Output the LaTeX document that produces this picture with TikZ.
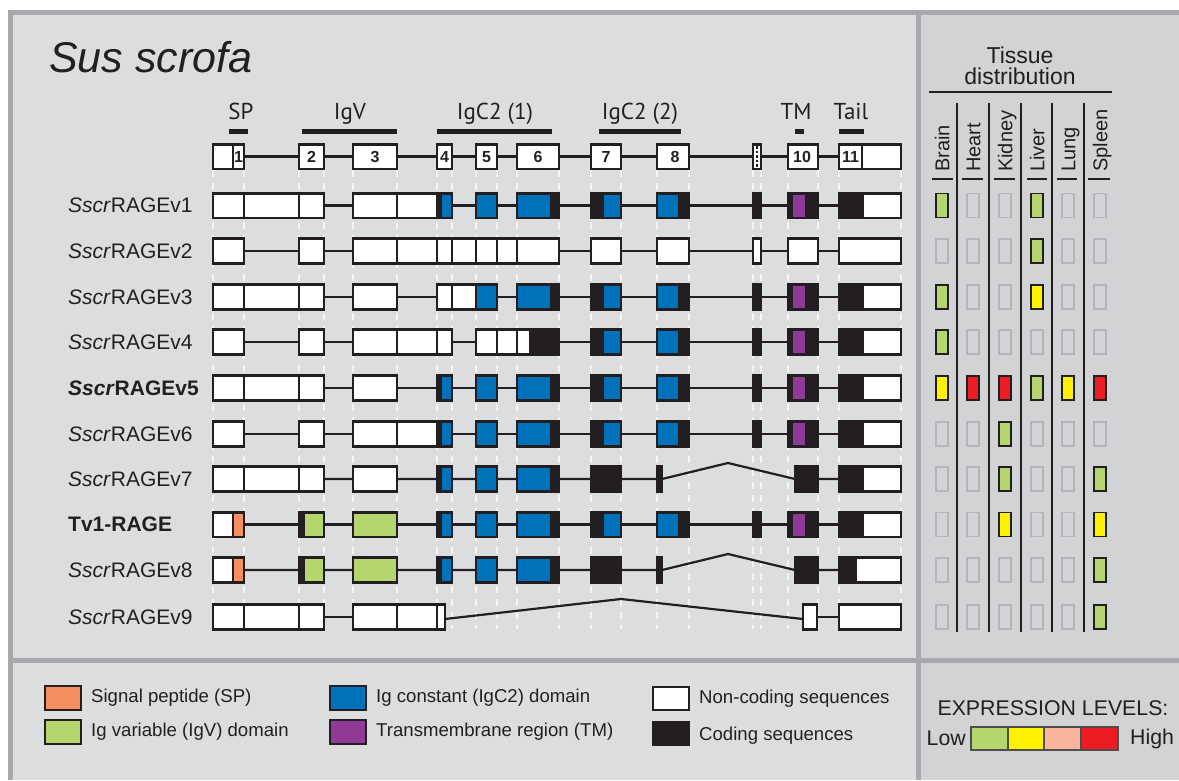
\documentclass[tikz,border=0pt]{standalone}
\usepackage{fontspec}
\setmainfont{Liberation Sans}
\newfontfamily\hdrfont{PT Sans}
\definecolor{mainbg}{HTML}{DCDDDF}
\definecolor{sidebg}{HTML}{D1D3D4}
\definecolor{framec}{HTML}{A7A9AC}
\definecolor{ink}{HTML}{231F20}
\definecolor{cblue}{HTML}{0072BC}
\definecolor{cpurp}{HTML}{8E3A96}
\definecolor{cgreen}{HTML}{B5D56F}
\definecolor{corange}{HTML}{F68E5F}
\definecolor{cyellow}{HTML}{FFF200}
\definecolor{cred}{HTML}{ED1C24}
\definecolor{cpink}{HTML}{F9B49B}
\definecolor{emptyb}{HTML}{B3B5B8}
\definecolor{guide}{HTML}{F4F4F5}
\newcommand\generow[2]{\foreach \a/\b/\c in {#2}{\path[exon,fill=\c] (\a,#1-12.3) rectangle (\b,#1+12.3);}}
\begin{document}
\begin{tikzpicture}[x=1pt,y=-1pt,
  exon/.style={draw=ink,line width=2.6pt},
  intron/.style={draw=ink,line width=2.2pt},
  guideline/.style={draw=guide,line width=1.6pt,dash pattern=on 7pt off 6pt},
  rowlab/.style={anchor=west,inner sep=0pt,text=ink,font=\fontsize{21}{24}\selectfont},
  hdr/.style={anchor=base,inner sep=0pt,text=ink,font=\hdrfont\fontsize{23}{26}\selectfont},
  num/.style={inner sep=0pt,text=ink,font=\bfseries\fontsize{16}{18}\selectfont},
  tissue/.style={rotate=90,anchor=base west,inner sep=0pt,text=ink,font=\fontsize{20}{22}\selectfont},
  leg/.style={anchor=west,inner sep=0pt,text=ink,font=\fontsize{18.6}{20}\selectfont},
  lbox/.style={draw=ink,line width=2.4pt},
  te/.style={draw=emptyb,line width=1.2pt},
  tb/.style={draw=ink,line width=1.6pt},
  bar/.style={fill=ink}
]
\useasboundingbox (0,0) rectangle (1179,780);
\fill[white] (0,0) rectangle (1179,780);
\fill[mainbg] (8,10) rectangle (918,780);
\fill[sidebg] (918,10) rectangle (1179,780);
\fill[framec] (8,10) rectangle (1179,14.5);
\fill[framec] (8,10) rectangle (12.5,780);
\fill[framec] (916,10) rectangle (921,780);
\fill[framec] (8,657.5) rectangle (1179,662.5);

% title
\node[anchor=base west,inner sep=0pt,text=ink,font=\itshape\fontsize{43}{46}\selectfont] (title) at (49,72.5) {Sus scrofa};

% guides
\foreach \gx in {213,244,299,324,353,397,437,452,476,497,517,559,591,621,657,689,753,761,788,818,839,901}
  \draw[guideline] (\gx,170) -- (\gx,629);

% domain headers
\node[hdr] (hSP) at (241,119) {SP};
\node[hdr] (hIgV) at (350,119) {IgV};
\node[hdr] (hC1) at (495,119) {IgC2 (1)};
\node[hdr] (hC2) at (640,119) {IgC2 (2)};
\node[hdr] (hTM) at (796,119) {TM};
\node[hdr] (hTail) at (851,119) {Tail};
\fill[bar] (229,129) rectangle (248,134);
\fill[bar] (302,129) rectangle (397,134);
\fill[bar] (437,129) rectangle (552,134);
\fill[bar] (599,129) rectangle (681,134);
\fill[bar] (795,129) rectangle (804,134);
\fill[bar] (839,129) rectangle (864,134);

% row 0 : gene structure
\draw[intron] (213,156.5) -- (901,156.5);
\generow{156.5}{213/233/white,233/244/white,299/324/white,353/397/white,437/452/white,476/497/white,517/559/white,591/621/white,657/689/white,753/761/white,788/818/white,839/862/white,862/901/white}
\draw[ink,line width=2pt,dash pattern=on 2.5pt off 2pt] (757,146) -- (757,167);
\node[num] (n1) at (238.5,157) {1};
\node[num] (n2) at (311.5,157) {2};
\node[num] (n3) at (375,157) {3};
\node[num] (n4) at (444.5,157) {4};
\node[num] (n5) at (486.5,157) {5};
\node[num] (n6) at (538,157) {6};
\node[num] (n7) at (606,157) {7};
\node[num] (n8) at (675,157) {8};
\node[num] (n10) at (802,157) {10};
\node[num] (n11) at (850.5,157) {11};

% v1
\draw[intron] (213,205.5) -- (901,205.5);
\generow{205.5}{213/244/white,244/299/white,299/324/white,353/397/white,397/437/white,437/441/ink,441/452/cblue,476/497/cblue,517/551/cblue,551/559/ink,591/603/ink,603/621/cblue,657/679/cblue,679/689/ink,753/761/ink,788/792/ink,792/806/cpurp,806/818/ink,839/863/ink,863/901/white}
% v2
\draw[intron] (213,251) -- (901,251);
\generow{251}{213/244/white,299/324/white,353/397/white,397/437/white,437/452/white,452/476/white,476/497/white,497/517/white,517/559/white,591/621/white,657/689/white,753/761/white,788/818/white,839/901/white}
% v3
\draw[intron] (213,297) -- (901,297);
\generow{297}{213/244/white,244/299/white,299/324/white,353/397/white,437/452/white,452/476/white,476/497/cblue,517/551/cblue,551/559/ink,591/603/ink,603/621/cblue,657/679/cblue,679/689/ink,753/761/ink,788/792/ink,792/806/cpurp,806/818/ink,839/863/ink,863/901/white}
% v4
\draw[intron] (213,342) -- (901,342);
\generow{342}{213/244/white,299/324/white,353/397/white,397/437/white,437/452/white,476/497/white,497/517/white,517/530/white,530/559/ink,591/603/ink,603/621/cblue,657/679/cblue,679/689/ink,753/761/ink,788/792/ink,792/806/cpurp,806/818/ink,839/863/ink,863/901/white}
% v5
\draw[intron] (213,388) -- (901,388);
\generow{388}{213/244/white,244/299/white,299/324/white,353/397/white,437/441/ink,441/452/cblue,476/497/cblue,517/551/cblue,551/559/ink,591/603/ink,603/621/cblue,657/679/cblue,679/689/ink,753/761/ink,788/792/ink,792/806/cpurp,806/818/ink,839/863/ink,863/901/white}
% v6
\draw[intron] (213,434) -- (901,434);
\generow{434}{213/244/white,299/324/white,353/397/white,397/437/white,437/441/ink,441/452/cblue,476/497/cblue,517/551/cblue,551/559/ink,591/603/ink,603/621/cblue,657/679/cblue,679/689/ink,753/761/ink,788/792/ink,792/806/cpurp,806/818/ink,839/863/ink,863/901/white}
% v7
\draw[intron,line join=miter] (213,479) -- (662,479) -- (728,463) -- (795,479) -- (901,479);
\generow{479}{213/244/white,244/299/white,299/324/white,353/397/white,437/441/ink,441/452/cblue,476/497/cblue,517/551/cblue,551/559/ink,591/621/ink,657/662/ink,795/818/ink,839/863/ink,863/901/white}
% Tv1
\draw[intron] (213,524.5) -- (901,524.5);
\generow{524.5}{213/233/white,233/244/corange,299/304/ink,304/324/cgreen,353/397/cgreen,437/441/ink,441/452/cblue,476/497/cblue,517/551/cblue,551/559/ink,591/603/ink,603/621/cblue,657/679/cblue,679/689/ink,753/761/ink,788/792/ink,792/806/cpurp,806/818/ink,839/863/ink,863/901/white}
% v8
\draw[intron,line join=miter] (213,570) -- (662,570) -- (728,554) -- (795,570) -- (901,570);
\generow{570}{213/233/white,233/244/corange,299/304/ink,304/324/cgreen,353/397/cgreen,437/441/ink,441/452/cblue,476/497/cblue,517/551/cblue,551/559/ink,591/621/ink,657/662/ink,795/818/ink,839/856/ink,856/901/white}
% v9
\draw[intron] (213,617) -- (445,617);
\draw[intron,line join=miter] (445,619) -- (621,599) -- (803,619);
\draw[intron] (803,617) -- (901,617);
\generow{617}{213/244/white,244/299/white,299/324/white,353/397/white,397/437/white,437/445/white,803/817/white,839/901/white}

% row labels
\node[rowlab] (l1) at (68,205.5) {\textit{Sscr}RAGEv1};
\node[rowlab] (l2) at (68,251) {\textit{Sscr}RAGEv2};
\node[rowlab] (l3) at (68,297) {\textit{Sscr}RAGEv3};
\node[rowlab] (l4) at (68,342) {\textit{Sscr}RAGEv4};
\node[rowlab] (l5) at (68,388) {\bfseries\textit{Sscr}RAGEv5};
\node[rowlab] (l6) at (68,434) {\textit{Sscr}RAGEv6};
\node[rowlab] (l7) at (68,479) {\textit{Sscr}RAGEv7};
\node[rowlab] (lT) at (68,524.5) {\bfseries Tv1-RAGE};
\node[rowlab] (l8) at (68,570) {\textit{Sscr}RAGEv8};
\node[rowlab] (l9) at (68,617) {\textit{Sscr}RAGEv9};

% tissue panel
\node[align=center,inner sep=0pt,text=ink,font=\fontsize{23}{21}\selectfont] (tt) at (1020,66) {Tissue\\distribution};
\draw[ink,line width=2.2pt] (929,92) -- (1112,92);
\foreach \vx in {957,989,1021,1052,1084} \draw[ink,line width=2pt] (\vx,103) -- (\vx,632);
\foreach \sa/\sb in {932/953,962/983,994/1015,1027/1047,1057/1077,1088/1110} \draw[ink,line width=2.6pt] (\sa,179) -- (\sb,179);
\node[tissue] (tBrain) at (949.3,172) {Brain};
\node[tissue] (tHeart) at (980.3,172) {Heart};
\node[tissue] (tKidney) at (1012.3,172) {Kidney};
\node[tissue] (tLiver) at (1044.3,172) {Liver};
\node[tissue] (tLung) at (1075.3,172) {Lung};
\node[tissue] (tSpleen) at (1107.3,172) {Spleen};
\foreach \ry in {205.5,251,297,342,388,434,479,524.5,570,617}
  \foreach \cx in {942,973,1005,1037,1068,1100}
    \path[te] (\cx-6,\ry-12) rectangle (\cx+6,\ry+12);
\foreach \cx/\ry/\c in {942/205.5/cgreen,1037/205.5/cgreen,1037/251/cgreen,942/297/cgreen,1037/297/cyellow,942/342/cgreen,942/388/cyellow,973/388/cred,1005/388/cred,1037/388/cgreen,1068/388/cyellow,1100/388/cred,1005/434/cgreen,1005/479/cgreen,1100/479/cgreen,1005/524.5/cyellow,1100/524.5/cyellow,1100/570/cgreen,1100/617/cgreen}
  \path[tb,fill=\c] (\cx-6,\ry-12) rectangle (\cx+6,\ry+12);

% legend
\path[lbox,fill=corange] (45,686) rectangle (81,710);
\node[leg] (lgSP) at (91,698) {Signal peptide (SP)};
\path[lbox,fill=cgreen] (45,720) rectangle (81,744);
\node[leg] (lgV) at (91,732) {Ig variable (IgV) domain};
\path[lbox,fill=cblue] (330,686) rectangle (366,710);
\node[leg] (lgC) at (376,698) {Ig constant (IgC2) domain};
\path[lbox,fill=cpurp] (330,720) rectangle (366,744);
\node[leg] (lgTM) at (376,732) {Transmembrane region (TM)};
\path[lbox,fill=white] (653,687) rectangle (689,710);
\node[leg] (lgNC) at (699,699) {Non-coding sequences};
\path[lbox,fill=ink] (653,722) rectangle (689,745);
\node[leg] (lgCS) at (699,736) {Coding sequences};

% expression levels
\node[anchor=base,inner sep=0pt,text=ink,font=\fontsize{21.3}{22}\selectfont] (exl) at (1053,715) {EXPRESSION LEVELS:};
\node[anchor=east,inner sep=0pt,text=ink,font=\fontsize{21.3}{22}\selectfont] (low) at (966,738.5) {Low};
\node[anchor=west,inner sep=0pt,text=ink,font=\fontsize{21.3}{22}\selectfont] (high) at (1130,738.5) {High};
\foreach \ea/\eb/\c in {971/1008/cgreen,1008/1044/cyellow,1044/1081/cpink,1081/1118/cred}
  \path[draw=ink!80,line width=1.3pt,fill=\c] (\ea,727) rectangle (\eb,750);
\end{tikzpicture}
\end{document}
